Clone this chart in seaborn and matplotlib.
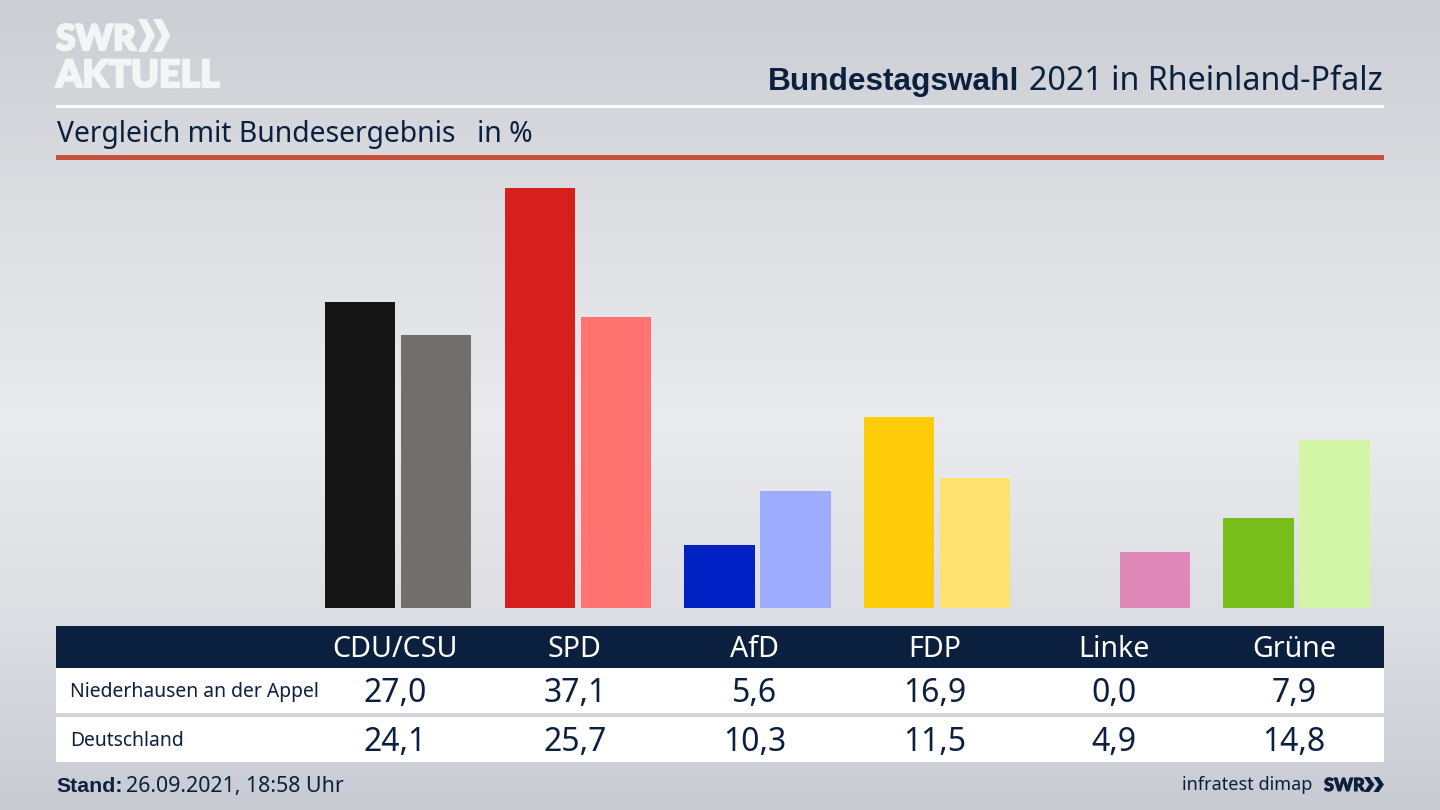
import numpy as np
import pandas as pd
import seaborn as sns
import matplotlib.pyplot as plt
import matplotlib.patheffects as pe
from matplotlib.colors import LinearSegmentedColormap
from matplotlib.patches import Polygon, Rectangle

# Data
parties = ["CDU/CSU", "SPD", "AfD", "FDP", "Linke", "Grüne"]
niederhausen = [27.0, 37.1, 5.6, 16.9, 0.0, 7.9]
deutschland = [24.1, 25.7, 10.3, 11.5, 4.9, 14.8]
row_names = ["Niederhausen an der Appel", "Deutschland"]
colors_local = ["#151515", "#D71F1D", "#0021C4", "#FFCC0A", "#B0246F", "#79BD1B"]
colors_national = ["#706F6D", "#FF7370", "#9DACFF", "#FFE170", "#DE89B7", "#D2F5A6"]

navy = "#0B1F3F"
logo_white = "#F4F5F6"
W, H = 1440, 810

sns.set_theme(style="white")
plt.rcParams["font.family"] = ["Noto Sans", "DejaVu Sans"]

fig = plt.figure(figsize=(W / 100, H / 100), dpi=100)


def px_axes(x0, y0, x1, y1, **kw):
    # axes from pixel box, y counted from the top
    return fig.add_axes([x0 / W, 1 - y1 / H, (x1 - x0) / W, (y1 - y0) / H], **kw)


# Background gradient
bg = px_axes(0, 0, W, H)
bg_cmap = LinearSegmentedColormap.from_list(
    "bg", [(0, "#CBCED4"), (0.25, "#DBDDE1"), (0.52, "#E9EBEE"), (0.78, "#DBDDE2"), (1, "#C8CBD2")]
)
bg.imshow(np.linspace(0, 1, 256).reshape(-1, 1), aspect="auto", cmap=bg_cmap, extent=(0, W, H, 0))
bg.set_xlim(0, W)
bg.set_ylim(H, 0)
bg.axis("off")

# Header rules
bg.add_patch(Rectangle((56, 104.5), 1328, 3, color="white", lw=0))
bg.add_patch(Rectangle((56, 155), 1328, 5, color="#C9503D", lw=0))

# Table
bg.add_patch(Rectangle((56, 626), 1328, 42, color=navy, lw=0))
bg.add_patch(Rectangle((56, 668), 1328, 45, color="white", lw=0))
bg.add_patch(Rectangle((56, 717), 1328, 45, color="white", lw=0))

# Bars
df = pd.DataFrame({
    "party": parties * 2,
    "value": niederhausen + deutschland,
    "area": [row_names[0]] * 6 + [row_names[1]] * 6,
})
ax = px_axes(56, 160, 1384, 608)
ax.patch.set_alpha(0)
sns.barplot(data=df, x="party", y="value", hue="area", width=0.846, gap=0.072,
            legend=False, ax=ax, saturation=1)
for container, cols in zip(ax.containers, [colors_local, colors_national]):
    for bar, col in zip(container, cols):
        bar.set_facecolor(col)
        bar.set_edgecolor("none")
        bar.set_linewidth(0)
ax.set_xlim((56 - 398.1) / 179.7, (1384 - 398.1) / 179.7)
ax.set_ylim(0, 448 / 11.33)
ax.axis("off")

# Table text, centred on the bar groups
for i, party in enumerate(parties):
    cx = 395 + i * 179.8
    bg.text(cx, 657, party, color="white", fontsize=20.6, ha="center", va="baseline")
    bg.text(cx, 702, f"{niederhausen[i]:.1f}".replace(".", ","), color=navy, fontsize=23, ha="center", va="baseline")
    bg.text(cx, 751, f"{deutschland[i]:.1f}".replace(".", ","), color=navy, fontsize=23, ha="center", va="baseline")
bg.text(70.5, 697, row_names[0], color=navy, fontsize=13.9, ha="left", va="baseline")
bg.text(70, 746, row_names[1], color=navy, fontsize=13.9, ha="left", va="baseline")

# Titles
bg.text(1383, 90, "2021 in Rheinland-Pfalz", color=navy, fontsize=23.2, ha="right", va="baseline")
bg.text(1019.5, 90, "Bundestagswahl", color=navy, fontsize=22.8, fontweight="bold",
        family="Liberation Sans", ha="right", va="baseline")
bg.text(57, 142, "Vergleich mit Bundesergebnis", color=navy, fontsize=20.4, ha="left", va="baseline")
bg.text(477, 142, "in %", color=navy, fontsize=20.4, ha="left", va="baseline")

# Footer
bg.text(56, 792, "Stand:", color=navy, fontsize=15.3, fontweight="bold", family="Liberation Sans", ha="left", va="baseline")
bg.text(126, 792, "26.09.2021, 18:58 Uhr", color=navy, fontsize=15.4, ha="left", va="baseline")
bg.text(1312, 790, "infratest dimap", color=navy, fontsize=13, ha="right", va="baseline")
small_logo = bg.text(1324, 791, "SWR", color=navy, fontsize=13, fontweight="black", family="Lato", ha="left", va="baseline")
small_logo.set_path_effects([pe.withStroke(linewidth=0.7, foreground=navy)])


def chevrons(x, y, h, w, color):
    # two right pointing arrows of the SWR logo
    for off in (0, w * 0.9):
        th = w * 0.5
        pts = [(x + off, y), (x + off + th, y), (x + off + w, y + h / 2),
               (x + off + th, y + h), (x + off, y + h), (x + off + w - th, y + h / 2)]
        bg.add_patch(Polygon(pts, closed=True, color=color, lw=0))


chevrons(1364, 777, 15, 10.5, navy)

# Logo
logo_top = bg.text(56, 50, "SWR", color=logo_white, fontsize=25.5, fontweight="black", family="Lato", ha="left", va="baseline")
logo_bottom = bg.text(56, 87, "AKTUELL", color=logo_white, fontsize=27, fontweight="black", family="Lato", ha="left", va="baseline")
for t in (logo_top, logo_bottom):
    t.set_path_effects([pe.withStroke(linewidth=1.6, foreground=logo_white)])
chevrons(138, 19, 33, 17, logo_white)

fig.savefig("out.png", dpi=100)
